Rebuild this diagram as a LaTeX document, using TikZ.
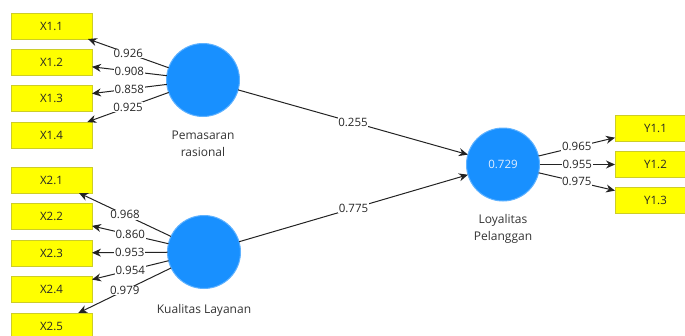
\documentclass[tikz,border=0pt]{standalone}
\usepackage{fontspec}
\setmainfont{Open Sans}
\usetikzlibrary{arrows.meta,positioning}
\definecolor{giallo}{RGB}{255,255,0}
\definecolor{bordogiallo}{RGB}{205,205,40}
\definecolor{blu}{RGB}{24,144,255}
\definecolor{bordoblu}{RGB}{95,178,255}
\definecolor{linea}{RGB}{35,35,35}
\definecolor{testoblu}{RGB}{225,238,255}

\begin{document}
\begin{tikzpicture}[x=1pt, y=-1pt, line width=1pt, font=\fontsize{11.5}{14}\selectfont,
    ind/.style={draw=bordogiallo, fill=giallo, minimum width=81pt, minimum height=26pt, inner sep=0pt, outer sep=0pt, text=black!85},
    lat/.style={circle, draw=bordoblu, fill=blu, minimum size=73pt, inner sep=0pt, outer sep=0pt, text=testoblu},
    coef/.style={fill=white, inner sep=0.6pt, text=black!85},
    freccia/.style={draw=linea, -{Stealth[length=9pt,width=8pt]}},
    didascalia/.style={align=center, text=black!80, font=\fontsize{12}{16.5}\selectfont}]
    \useasboundingbox (0,0) rectangle (685,335);
    \clip (0,0) rectangle (685,335);

    % Variabili latenti
    \node[lat] (pr) at (203,80) {};
    \node[lat] (kl) at (204,252) {};
    \node[lat] (lp) at (503,164.5) {0.729};

    % Didascalie
    \node[didascalia, below=11pt of pr] (prlab) {Pemasaran\\rasional};
    \node[didascalia, below=12pt of kl] (kllab) {Kualitas Layanan};
    \node[didascalia, below=10pt of lp] (lplab) {Loyalitas\\Pelanggan};

    % Indicatori
    \foreach \n/\y in {1/26, 2/62, 3/98.5, 4/135}
        \node[ind] (x1\n) at (51.5,\y) {X1.\n};
    \foreach \n/\y in {1/180, 2/216.5, 3/253, 4/289.5, 5/326}
        \node[ind] (x2\n) at (51.5,\y) {X2.\n};
    \foreach \n/\y in {1/128, 2/164.5, 3/200}
        \node[ind] (y1\n) at (655.5,\y) {Y1.\n};

    % Loadings
    \foreach \n/\v in {1/0.926, 2/0.908, 3/0.858, 4/0.925}
        \draw[freccia] (pr) -- node[coef] {\v} (x1\n);
    \foreach \n/\v in {1/0.968, 2/0.860, 3/0.953, 4/0.954, 5/0.979}
        \draw[freccia] (kl) -- node[coef] {\v} (x2\n);
    \foreach \n/\v in {1/0.965, 2/0.955, 3/0.975}
        \draw[freccia] (lp) -- node[coef] {\v} (y1\n);

    % Percorsi strutturali
    \draw[freccia] (pr) -- node[coef] {0.255} (lp);
    \draw[freccia] (kl) -- node[coef] {0.775} (lp);
\end{tikzpicture}
\end{document}
